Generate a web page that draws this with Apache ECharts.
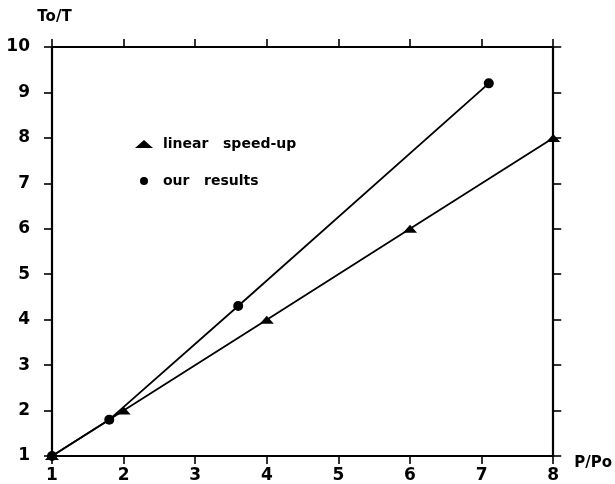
<!DOCTYPE html>
<html><head><meta charset="utf-8">
<script src="https://cdn.jsdelivr.net/npm/echarts@6/dist/echarts.min.js"></script>
<style>html,body{margin:0;padding:0;background:#fff}#c{width:615px;height:484px}</style>
</head><body><div id="c"></div>
<script>
const linearX = [1, 2, 4, 6, 8];
const linearY = [1, 2, 4, 6, 8];
const oursX = [1, 1.8, 3.6, 7.1];
const oursY = [1, 1.8, 4.3, 9.2];
const xTicks = [1, 2, 3, 4, 5, 6, 7, 8];
const yTicks = [1, 2, 3, 4, 5, 6, 7, 8, 9, 10];
const seriesNames = ['linear   speed-up', 'our   results'];

const font = 'DejaVu Sans, Verdana, sans-serif';
const axisLine = {show: true, lineStyle: {color: '#000', width: 2.2}};
const tick = {show: true, inside: false, length: 8, lineStyle: {color: '#000', width: 1.6}};

const chart = echarts.init(document.getElementById('c'));
chart.setOption({
  animation: false,
  backgroundColor: '#fff',
  grid: {left: 52, right: 59, top: 47, bottom: 28, containLabel: false},
  legend: {
    orient: 'vertical', left: 130, top: 132, itemGap: 23,
    itemWidth: 18, itemHeight: 8,
    textStyle: {fontFamily: font, fontWeight: 'bold', fontSize: 14, color: '#000', padding: [0, 0, 0, 5]},
    data: [
      {name: seriesNames[0], icon: 'triangle'},
      {name: seriesNames[1], icon: 'circle'}
    ]
  },
  xAxis: [
    {type: 'value', min: xTicks[0], max: xTicks[xTicks.length - 1], interval: 1, position: 'bottom',
     name: 'P/Po', nameLocation: 'end', nameGap: 21,
     nameTextStyle: {fontFamily: font, fontWeight: 'bold', fontSize: 15, color: '#000', verticalAlign: 'top', padding: [0, 0, 0, 0]},
     axisLine: axisLine, axisTick: tick, splitLine: {show: false},
     axisLabel: {fontFamily: font, fontWeight: 'bold', fontSize: 17, color: '#000', margin: 11}},
    {type: 'value', min: xTicks[0], max: xTicks[xTicks.length - 1], interval: 1, position: 'top',
     axisLine: axisLine, axisTick: tick, splitLine: {show: false}, axisLabel: {show: false}}
  ],
  yAxis: [
    {type: 'value', min: yTicks[0], max: yTicks[yTicks.length - 1], interval: 1, position: 'left',
     name: 'To/T', nameLocation: 'end', nameGap: 22,
     nameTextStyle: {fontFamily: font, fontWeight: 'bold', fontSize: 15, color: '#000', align: 'center', padding: [0, 0, 0, 5]},
     axisLine: axisLine, axisTick: tick, splitLine: {show: false},
     axisLabel: {fontFamily: font, fontWeight: 'bold', fontSize: 17, color: '#000', margin: 22}},
    {type: 'value', min: yTicks[0], max: yTicks[yTicks.length - 1], interval: 1, position: 'right',
     axisLine: axisLine, axisTick: tick, splitLine: {show: false}, axisLabel: {show: false}}
  ],
  series: [
    {name: seriesNames[0], type: 'line', data: linearX.map((x, i) => [x, linearY[i]]),
     symbol: 'triangle', symbolSize: [14, 8], lineStyle: {color: '#000', width: 1.8},
     itemStyle: {color: '#000'}, color: '#000', clip: false},
    {name: seriesNames[1], type: 'line', data: oursX.map((x, i) => [x, oursY[i]]),
     symbol: 'circle', symbolSize: 10, lineStyle: {color: '#000', width: 1.8},
     itemStyle: {color: '#000'}, color: '#000', clip: false}
  ]
});
</script></body></html>
